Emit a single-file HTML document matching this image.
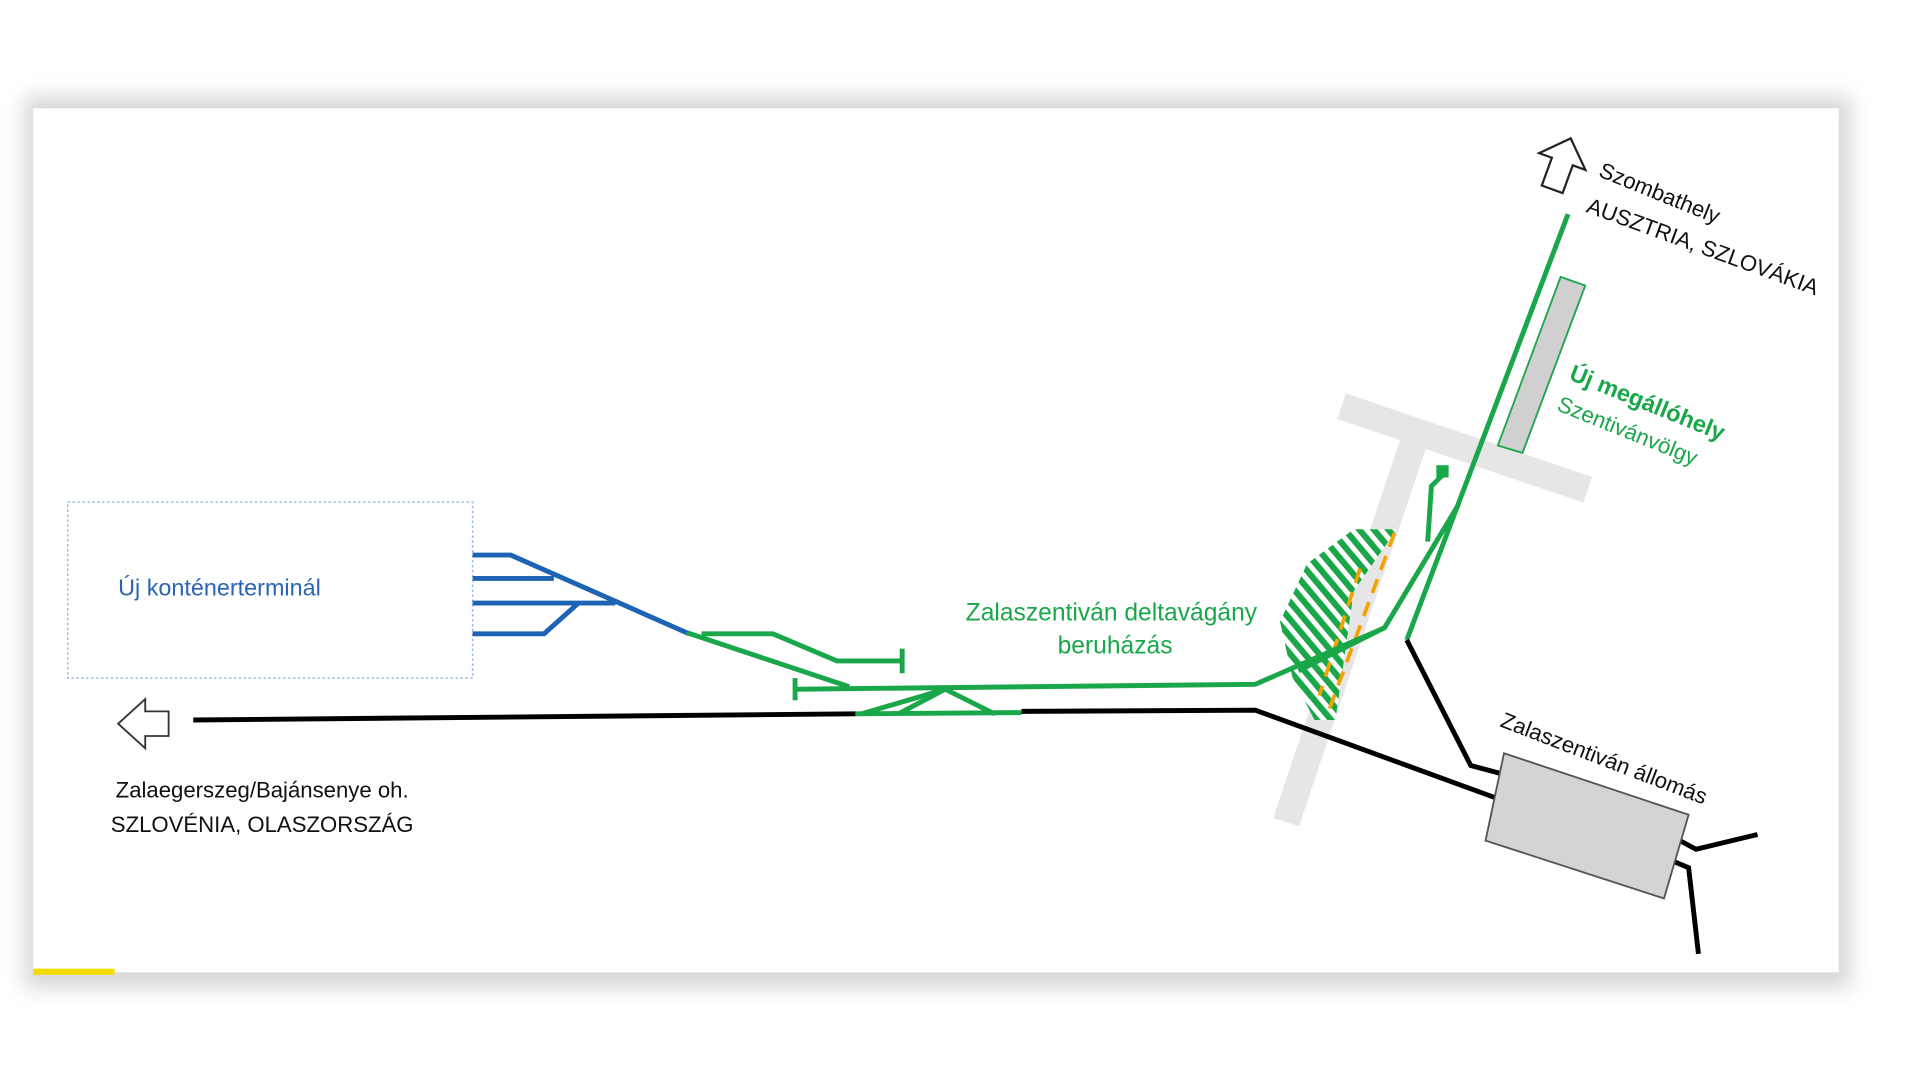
<!DOCTYPE html>
<html><head><meta charset="utf-8"><style>
html,body{margin:0;padding:0;background:#fff;width:1920px;height:1080px;overflow:hidden}
svg{display:block}
text{font-family:"Liberation Sans",sans-serif}
</style></head><body>
<svg width="1920" height="1080" viewBox="0 0 1560 877.5" xmlns="http://www.w3.org/2000/svg">
<defs>
<filter id="sh" x="-5%" y="-5%" width="110%" height="115%"><feGaussianBlur stdDeviation="8"/></filter>
<pattern id="hatch" width="9" height="9" patternUnits="userSpaceOnUse" patternTransform="rotate(-40)">
<rect width="9" height="9" fill="#fff"/><rect width="5" height="9" fill="#1aa74a"/></pattern>
</defs>
<rect x="0" y="0" width="1560" height="877.5" fill="#fff"/>
<rect x="20" y="78" width="1484" height="725" fill="#d8d8d8" filter="url(#sh)"/>
<rect x="27" y="88" width="1467" height="702" fill="#fff"/>
<rect x="27" y="787" width="66" height="5" fill="#f2dc00"/>

<line x1="1090" y1="330" x2="1290" y2="398" stroke="#e6e6e6" stroke-width="22"/>
<line x1="1150" y1="355" x2="1045" y2="668" stroke="#e6e6e6" stroke-width="22"/>

<rect x="55" y="408" width="329" height="143" fill="none" stroke="#9bb6e0" stroke-width="1.2" stroke-dasharray="2,2"/>
<text x="96" y="484" font-size="19" fill="#2a63b8">Új konténerterminál</text>

<g stroke="#1f63b5" stroke-width="4" fill="none">
<polyline points="384,451 415,451 560,515"/>
<polyline points="384,470 450,470"/>
<polyline points="384,490 500,490"/>
<polyline points="384,515 442,515 470,490"/>
</g>
<path d="M1062,458 L1100,430 L1135,430 L1100,480 L1085,585 L1068,585 L1050,550 L1040,505 Z" fill="url(#hatch)"/>
<g stroke="#f2a300" stroke-width="3" stroke-dasharray="12,8" fill="none">
<line x1="1133" y1="433" x2="1078" y2="582"/>
<line x1="1105" y1="462" x2="1072" y2="565"/>
</g>
<g stroke="#1aa74a" stroke-width="4" fill="none">
<polyline points="558,514 690,558"/>
<polyline points="570,515 628,515 680,537 733,537"/>
<line x1="733" y1="527" x2="733" y2="547"/>
<line x1="646" y1="551" x2="646" y2="569"/>
<polyline points="646,560 1020,556 1125,510 1185,410"/>
<polyline points="1143,520 1274,174"/>
<polyline points="1055,545 1125,510"/>
<polyline points="1160,440 1163,395 1172,386"/>
<rect x="1167" y="378" width="10" height="10" fill="#1aa74a" stroke="none"/>
<polyline points="695,580 830,579"/>
<polyline points="700,580 768,560 808,580"/>
<polyline points="730,580 768,560"/>
</g>
<g stroke="#000" stroke-width="4" fill="none">
<line x1="157" y1="585" x2="695" y2="580"/>
<polyline points="830,578 1020,577 1220,650"/>
<polyline points="1143,520 1195,622 1225,630"/>
<polyline points="1365,683 1378,690 1428,678"/>
<polyline points="1360,700 1372,705 1380,775"/>
</g>
<polygon points="1222,612 1372,662 1352,730 1207,683" fill="#d4d4d4" stroke="#555" stroke-width="1.5"/>
<polygon points="1268,225 1288,232 1237,368 1217,362" fill="#d0d0d0" stroke="#1aa74a" stroke-width="1.5"/>
<polygon points="96,588 118,568 118,578 137,578 137,598 118,598 118,608" fill="#fff" stroke="#333" stroke-width="1.5"/>
<g transform="translate(1268,135) rotate(20)">
<polygon points="0,-24 20,-4 9,-4 9,20 -9,20 -9,-4 -20,-4" fill="#fff" stroke="#222" stroke-width="1.8"/>
</g>
<text font-size="18" fill="#111" transform="translate(1298,143) rotate(22)">Szombathely</text>
<text font-size="18" fill="#111" transform="translate(1288,172) rotate(20)">AUSZTRIA, SZLOVÁKIA</text>
<text font-size="19" font-weight="bold" fill="#1aa74a" transform="translate(1274,308) rotate(22)">Új megállóhely</text>
<text font-size="18" fill="#1aa74a" transform="translate(1264,333) rotate(22)">Szentivánvölgy</text>
<text font-size="18" fill="#111" transform="translate(1218,590) rotate(21)">Zalaszentiván állomás</text>
<text x="903" y="504" font-size="20" fill="#1aa74a" text-anchor="middle">Zalaszentiván deltavágány</text>
<text x="906" y="531" font-size="20" fill="#1aa74a" text-anchor="middle">beruházás</text>
<text x="213" y="648" font-size="18" fill="#111" text-anchor="middle">Zalaegerszeg/Bajánsenye oh.</text>
<text x="213" y="676" font-size="18" fill="#111" text-anchor="middle">SZLOVÉNIA, OLASZORSZÁG</text>
</svg>
</body></html>
